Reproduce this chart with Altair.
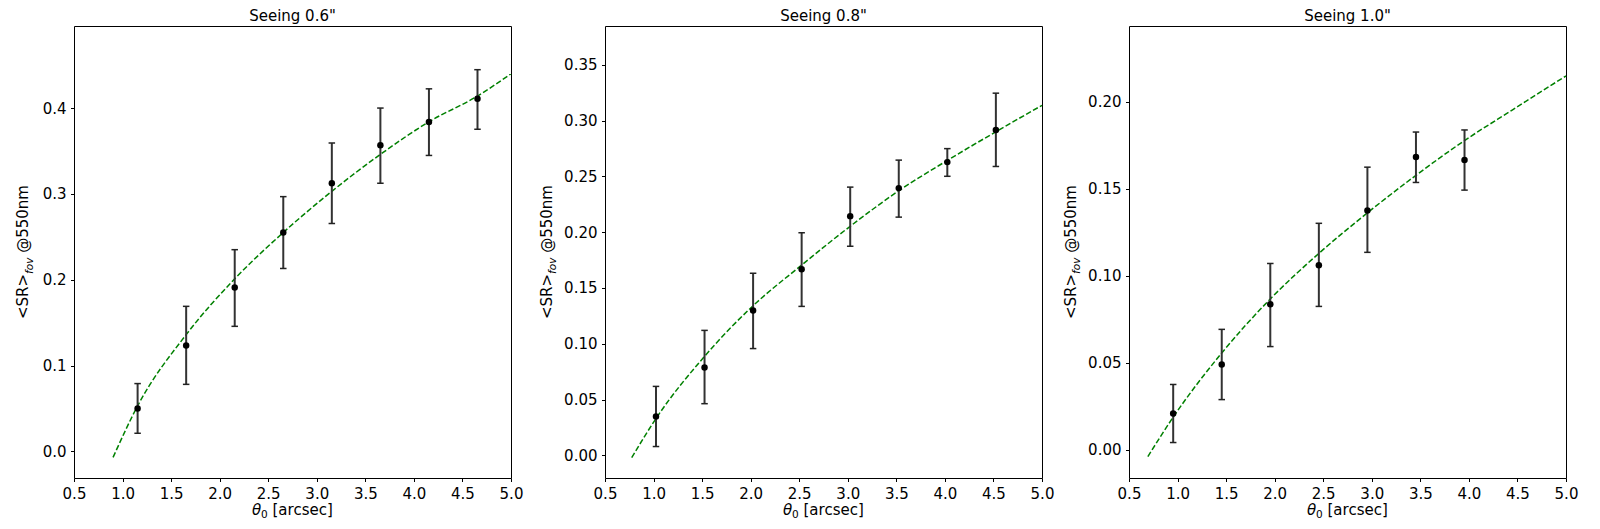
import altair as alt
import pandas as pd

FONT = "DejaVu Sans"

# ---------------- data ----------------
panel_titles = ['Seeing 0.6"', 'Seeing 0.8"', 'Seeing 1.0"']
x_ticks = [0.5, 1.0, 1.5, 2.0, 2.5, 3.0, 3.5, 4.0, 4.5, 5.0]

# Seeing 0.6"
s06_theta = [1.155, 1.655, 2.155, 2.655, 3.155, 3.655, 4.155, 4.655]
s06_sr = [0.0500, 0.1235, 0.1910, 0.2550, 0.3123, 0.3567, 0.3838, 0.4108]
s06_hi = [0.0790, 0.1690, 0.2350, 0.2968, 0.3592, 0.4000, 0.4224, 0.4447]
s06_lo = [0.0211, 0.0781, 0.1457, 0.2131, 0.2655, 0.3124, 0.3448, 0.3753]
s06_fit_theta = [0.902, 1.155, 1.655, 2.155, 2.655, 3.155, 3.655, 4.155, 4.655, 5.0]
s06_fit_sr = [-0.007, 0.053, 0.136, 0.201, 0.255, 0.303, 0.346, 0.384, 0.414, 0.440]
s06_yticks = [0.0, 0.1, 0.2, 0.3, 0.4]
s06_ydomain = [-0.031, 0.4956]

# Seeing 0.8"
s08_theta = [1.025, 1.525, 2.025, 2.525, 3.025, 3.525, 4.025, 4.525]
s08_sr = [0.0348, 0.0787, 0.1299, 0.1668, 0.2144, 0.2395, 0.2628, 0.2916]
s08_hi = [0.0618, 0.1120, 0.1632, 0.1995, 0.2404, 0.2646, 0.2749, 0.3246]
s08_lo = [0.0079, 0.0463, 0.0957, 0.1335, 0.1874, 0.2135, 0.2501, 0.2589]
s08_fit_theta = [0.775, 1.025, 1.525, 2.025, 2.525, 3.025, 3.525, 4.025, 4.525, 5.0]
s08_fit_sr = [-0.002, 0.033, 0.0887, 0.1341, 0.1705, 0.2053, 0.2371, 0.2643, 0.2900, 0.3137]
s08_yticks = [0.0, 0.05, 0.10, 0.15, 0.20, 0.25, 0.30, 0.35]
s08_ydomain = [-0.0203, 0.3848]

# Seeing 1.0"
s10_theta = [0.955, 1.455, 1.955, 2.455, 2.955, 3.455, 3.955]
s10_sr = [0.0208, 0.0490, 0.0836, 0.1061, 0.1376, 0.1683, 0.1666]
s10_hi = [0.0375, 0.0692, 0.1071, 0.1302, 0.1625, 0.1827, 0.1839]
s10_lo = [0.0041, 0.0288, 0.0593, 0.0824, 0.1135, 0.1537, 0.1493]
s10_fit_theta = [0.694, 0.955, 1.455, 1.955, 2.455, 2.955, 3.455, 3.955, 4.45, 5.0]
s10_fit_sr = [-0.004, 0.0187, 0.0556, 0.0867, 0.1129, 0.1362, 0.1578, 0.1778, 0.1955, 0.215]
s10_yticks = [0.0, 0.05, 0.10, 0.15, 0.20]
s10_ydomain = [-0.0163, 0.2437]

# ---------------- layout / style ----------------
W, H = 437, 452
GAP1, GAP2 = 94, 87
FS = 15
SUB_FS = 10.5

one = pd.DataFrame({"k": [0]})


def ylabel_layers(base_x):
    """y-axis title '<SR>_fov @550nm' built from text pieces (rotated)."""
    w1 = 3.006 * FS          # "<SR>"
    w2 = 1.556 * SUB_FS      # "fov"
    wsp = 0.318 * FS         # space
    w3 = 4.517 * FS          # "@550nm"
    total = w1 + w2 + wsp + w3
    start = H / 2 + total / 2
    common = dict(angle=270, align="left", baseline="alphabetic", font=FONT, color="black")
    t1 = alt.Chart(one).mark_text(text="<SR>", fontSize=FS, **common).encode(
        x=alt.value(base_x), y=alt.value(start))
    t2 = alt.Chart(one).mark_text(text="fov", fontSize=SUB_FS, fontStyle="italic", **common).encode(
        x=alt.value(base_x + 4.5), y=alt.value(start - w1))
    t3 = alt.Chart(one).mark_text(text="@550nm", fontSize=FS, **common).encode(
        x=alt.value(base_x), y=alt.value(start - w1 - w2 - wsp))
    return [t1, t2, t3]


def xlabel_layers():
    """x-axis title 'θ_0 [arcsec]' (italic theta, subscript 0)."""
    w1 = 0.612 * FS          # theta
    w2 = 0.636 * SUB_FS      # "0"
    wsp = 0.318 * FS
    w3 = 4.040 * FS          # "[arcsec]"
    total = w1 + w2 + wsp + w3
    x0 = W / 2 - total / 2
    base_y = H + 37
    common = dict(align="left", baseline="alphabetic", font=FONT, color="black")
    t1 = alt.Chart(one).mark_text(text="θ", fontSize=FS, fontStyle="italic", **common).encode(
        x=alt.value(x0), y=alt.value(base_y))
    t2 = alt.Chart(one).mark_text(text="0", fontSize=SUB_FS, **common).encode(
        x=alt.value(x0 + w1), y=alt.value(base_y + 3.3))
    t3 = alt.Chart(one).mark_text(text="[arcsec]", fontSize=FS, **common).encode(
        x=alt.value(x0 + w1 + w2 + wsp), y=alt.value(base_y))
    return [t1, t2, t3]


def panel(title, theta, sr, hi, lo, fit_t, fit_s, ydom, yticks, yfmt, title_x):
    pts = pd.DataFrame({"theta": theta, "sr": sr, "hi": hi, "lo": lo})
    fit = pd.DataFrame({"theta": fit_t, "sr": fit_s})
    xs = alt.Scale(domain=[0.5, 5.0], nice=False, zero=False)
    ys = alt.Scale(domain=ydom, nice=False, zero=False)
    xax = alt.Axis(values=x_ticks, format=".1f", title=None)
    yax = alt.Axis(values=yticks, format=yfmt, title=None)
    X = alt.X("theta:Q", scale=xs, axis=xax)

    line = alt.Chart(fit).mark_line(
        color="#008000", strokeDash=[5.5, 2.4], strokeWidth=1.5, interpolate="monotone"
    ).encode(x=X, y=alt.Y("sr:Q", scale=ys, axis=yax))
    bars = alt.Chart(pts).mark_rule(color="#333333", strokeWidth=2).encode(
        x=X, y=alt.Y("lo:Q", scale=ys, axis=yax), y2="hi:Q")
    cap_hi = alt.Chart(pts).mark_tick(
        orient="horizontal", size=6.5, thickness=1.5, color="#222222", opacity=1
    ).encode(x=X, y=alt.Y("hi:Q", scale=ys, axis=yax))
    cap_lo = alt.Chart(pts).mark_tick(
        orient="horizontal", size=6.5, thickness=1.5, color="#222222", opacity=1
    ).encode(x=X, y=alt.Y("lo:Q", scale=ys, axis=yax))
    dots = alt.Chart(pts).mark_circle(size=42, color="black", opacity=1).encode(
        x=X, y=alt.Y("sr:Q", scale=ys, axis=yax))
    head = alt.Chart(one).mark_text(
        text=title, font=FONT, fontSize=FS, color="black", align="center", baseline="alphabetic"
    ).encode(x=alt.value(W / 2), y=alt.value(-5.3))

    layers = [line, bars, cap_hi, cap_lo, dots, head] + ylabel_layers(title_x) + xlabel_layers()
    return alt.layer(*layers).properties(width=W, height=H)


def spacer(width):
    return alt.Chart(one).mark_point(opacity=0).encode(
        x=alt.value(0), y=alt.value(10)
    ).properties(width=width, height=H, view=alt.ViewBackground(stroke="transparent"))


c1 = panel(panel_titles[0], s06_theta, s06_sr, s06_hi, s06_lo, s06_fit_theta, s06_fit_sr,
           s06_ydomain, s06_yticks, ".1f", -45.6)
c2 = panel(panel_titles[1], s08_theta, s08_sr, s08_hi, s08_lo, s08_fit_theta, s08_fit_sr,
           s08_ydomain, s08_yticks, ".2f", -53.5)
c3 = panel(panel_titles[2], s10_theta, s10_sr, s10_hi, s10_lo, s10_fit_theta, s10_fit_sr,
           s10_ydomain, s10_yticks, ".2f", -53.5)

chart = alt.hconcat(c1, spacer(GAP1), c2, spacer(GAP2), c3, spacing=0, bounds="flush").properties(
    padding={"left": 7, "top": 0, "right": 5, "bottom": 2}
).configure(font=FONT).configure_view(
    stroke="black", strokeWidth=1
).configure_axis(
    domain=False, grid=False,
    ticks=True, tickColor="black", tickSize=3.5, tickWidth=1,
    labelFont=FONT, labelFontSize=FS, labelColor="black", labelPadding=4.5,
    labelFlush=False, labelOverlap=False,
)

chart.save("out.html", embed_options={"renderer": "svg", "actions": False})
